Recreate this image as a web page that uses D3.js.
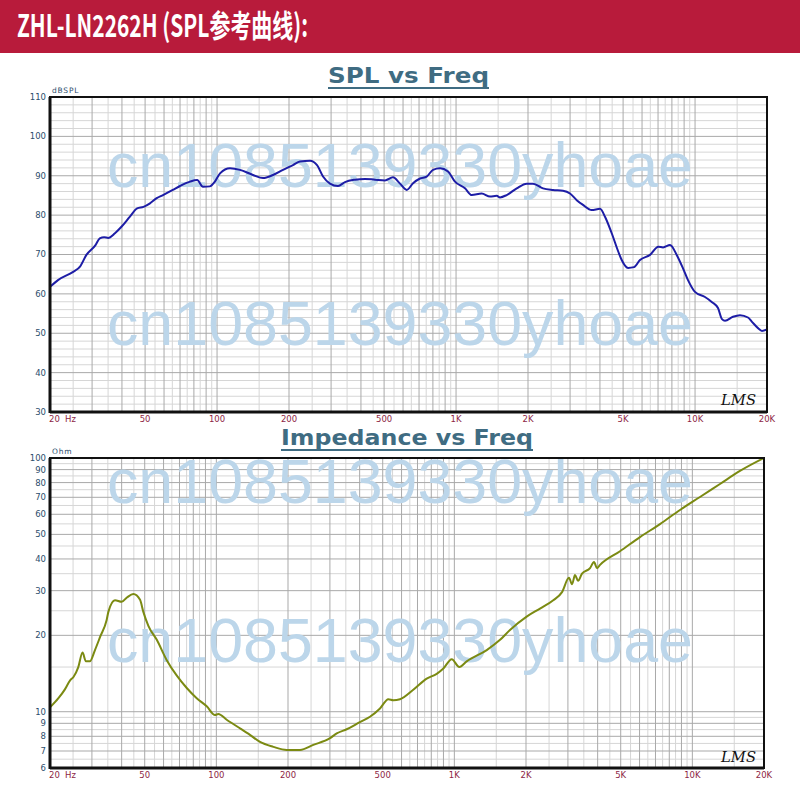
<!DOCTYPE html>
<html>
<head>
<meta charset="utf-8">
<script src="https://cdn.jsdelivr.net/npm/d3@7"></script>
<style>
  html, body { margin: 0; padding: 0; background: #fff; }
  svg { display: block; }
</style>
</head>
<body>
<svg id="chart" width="800" height="800"></svg>
<script>
// ---------- DATA ----------
const headerTitle = "ZHL-LN2262H (SPL参考曲线):";
const splTitle = "SPL vs Freq";
const impTitle = "Impedance vs Freq";
const watermarkText = "cn1085139330yhoae";

const splFreq = [20, 21.6, 25, 26.7, 28.4, 31, 32.3, 33.7, 35, 37.4, 39.9, 43.2, 46.3, 49.2, 52.4, 55.9, 59.4, 65.3, 70, 77, 82.6,
  87.3, 93.3, 97.9, 102.9, 113.3, 124.7, 141.4, 155.7, 171.5, 188.8, 207.8, 222.4, 244.9, 262, 277.6, 296.8, 320.6, 343, 377.8,
  416, 457.9, 504, 544.6, 582.8, 621.7, 660.6, 706.7, 753.8, 801, 856.9, 925.3, 990, 1090, 1163, 1280, 1387, 1479, 1527, 1629,
  1794, 1975, 2098, 2311, 2545, 2802, 2998, 3198, 3398, 3694, 4004, 4200, 4480, 4775, 4933, 5243, 5552, 5883, 6478, 7021, 7346,
  7856, 8380, 8904, 9344, 9992, 11004, 11776, 12474, 12964, 13346, 14412, 15418, 16652, 17306, 18340, 19060, 20000];
const splDb = [61.8, 63.5, 65.6, 66.9, 69.9, 72.4, 74.1, 74.4, 74.2, 75.4, 77.1, 79.6, 81.7, 82.1, 83.0, 84.3, 85.1, 86.4, 87.4, 88.5, 88.9,
  87.2, 87.3, 88.5, 90.6, 91.9, 91.5, 90.2, 89.4, 90.2, 91.5, 92.7, 93.6, 93.8, 92.7, 89.8, 88.0, 87.4, 88.4, 89.0,
  89.2, 89.0, 88.8, 89.6, 88.0, 86.4, 88.1, 89.3, 89.8, 91.5, 91.9, 91.1, 88.5, 86.8, 85.1, 85.5, 84.7, 84.9, 84.5, 85.1,
  86.8, 88.0, 88.0, 86.8, 86.4, 86.2, 85.5, 83.8, 82.6, 81.3, 81.6, 79.6, 75.4, 70.7, 68.6, 66.6, 66.8, 68.6, 69.9, 72.0, 71.8,
  72.4, 69.9, 66.5, 63.5, 60.5, 59.2, 57.9, 56.4, 53.6, 53.2, 54.2, 54.6, 54.0, 52.9, 51.3, 50.6, 51.0];

const impFreq = [20, 21.7, 23.1, 24.3, 25.1, 26.3, 27.4, 28.3, 29.4, 30.9, 32.5, 34.6, 35.2, 37.5, 40, 42.1, 44.8, 47.8, 49.3, 51.8,
  56.2, 61.8, 68.1, 75.1, 82.7, 91.1, 98.7, 101.9, 110.5, 125.7, 136.2, 152.5, 173.5, 197.5, 224.6, 255.5, 300.4, 320.4, 353, 401,
  442, 487, 528, 554, 591, 672, 765, 843, 899, 975, 1049, 1127, 1368, 1556, 1713, 2013, 2290, 2604, 2834, 3031, 3122, 3214, 3309,
  3439, 3716, 3862, 3976, 4093, 4966, 6026, 7311, 8872, 10766, 13062, 15850, 20000];
const impOhm = [10.4, 11.3, 12.25, 13.3, 13.7, 15.0, 17.1, 15.8, 15.8, 17.5, 19.75, 23.0, 24.8, 27.5, 27.1, 28.2, 29.1, 27.6, 24.8, 21.8,
  19.2, 16.0, 13.9, 12.4, 11.3, 10.5, 9.7, 9.8, 9.3, 8.6, 8.2, 7.6, 7.27, 7.07, 7.07, 7.4, 7.87, 8.21, 8.53, 9.1,
  9.55, 10.3, 11.2, 11.1, 11.2, 12.2, 13.5, 14.1, 14.8, 16.1, 15.0, 15.8, 17.5, 19.2, 21.0, 23.7, 25.5, 27.5, 29.6, 33.7, 31.8, 34.6, 32.8,
  35.0, 36.8, 38.9, 36.8, 37.9, 42.9, 48.8, 54.9, 62.4, 70.2, 79.0, 88.9, 100];

const xTickValues = [50, 100, 200, 500, 1000, 2000, 5000, 10000, 20000];
const xTickLabels = ["50", "100", "200", "500", "1K", "2K", "5K", "10K", "20K"];
const splTickValues = [110, 100, 90, 80, 70, 60, 50, 40, 30];
const impTickValues = [100, 90, 80, 70, 60, 50, 40, 30, 20, 10, 9, 8, 7, 6];

// ---------- LAYOUT ----------
const svg = d3.select("#chart");
const C = {
  header: "#b81b3b", title: "#3f6c82", ytick: "#2c4d6c", xtick: "#8e1f45",
  major: "#a9a9a9", minor: "#d6d6d6", spl: "#1d1da6", imp: "#7b8a12", wm: "#bcd6ea"
};

// header band
svg.append("rect").attr("x", 0).attr("y", 0).attr("width", 800).attr("height", 53).attr("fill", C.header);
svg.append("text").attr("x", 17).attr("y", 37)
  .attr("font-family", "'Noto Sans CJK SC', 'DejaVu Sans', sans-serif")
  .attr("font-weight", "bold").attr("font-size", 31).attr("fill", "#fff")
  .attr("textLength", 291).attr("lengthAdjust", "spacingAndGlyphs")
  .text(headerTitle);

// frequency grid values
function freqGrid() {
  const major = [], minor = [];
  [10, 100, 1000, 10000].forEach(d => {
    for (let m = 1; m <= 9; m++) {
      const f = m * d, h = (m + 0.5) * d;
      if (f >= 20 && f <= 20000) major.push(f);
      if (h > 20 && h < 20000) minor.push(h);
    }
  });
  return { major, minor };
}
const fg = freqGrid();

function drawPanel(opts) {
  const { x, y, left, right, top, bottom, yMajor, yMinor, yTicks, unit, title, titleX, titleBase, titleLen,
          data, color, wmBases, lmsY, xLabelY } = opts;
  const g = svg.append("g");
  const clipId = "clip" + Math.round(top);
  svg.append("clipPath").attr("id", clipId).append("rect")
    .attr("x", left).attr("y", top).attr("width", right - left).attr("height", bottom - top);

  // minor grid
  g.selectAll(".vmin").data(fg.minor).enter().append("line")
    .attr("x1", d => x(d)).attr("x2", d => x(d)).attr("y1", top).attr("y2", bottom)
    .attr("stroke", C.minor).attr("stroke-width", 1);
  g.selectAll(".hmin").data(yMinor).enter().append("line")
    .attr("x1", left).attr("x2", right).attr("y1", d => y(d)).attr("y2", d => y(d))
    .attr("stroke", C.minor).attr("stroke-width", 1);
  // major grid
  g.selectAll(".vmaj").data(fg.major).enter().append("line")
    .attr("x1", d => x(d)).attr("x2", d => x(d)).attr("y1", top).attr("y2", bottom)
    .attr("stroke", C.major).attr("stroke-width", 1);
  g.selectAll(".hmaj").data(yMajor).enter().append("line")
    .attr("x1", left).attr("x2", right).attr("y1", d => y(d)).attr("y2", d => y(d))
    .attr("stroke", C.major).attr("stroke-width", 1);

  // watermark
  wmBases.forEach(b => {
    g.append("text").attr("x", 107).attr("y", b)
      .attr("font-family", "'Liberation Sans', Arial, sans-serif").attr("font-size", 63)
      .attr("fill", C.wm).attr("textLength", 586).attr("lengthAdjust", "spacingAndGlyphs")
      .text(watermarkText);
  });

  // curve
  const line = d3.line().x(d => x(d[0])).y(d => y(d[1])).curve(d3.curveMonotoneX);
  g.append("path").datum(data).attr("d", line).attr("fill", "none")
    .attr("stroke", color).attr("stroke-width", 2).attr("stroke-linejoin", "round")
    .attr("clip-path", `url(#${clipId})`);

  // LMS logo
  g.append("text").attr("x", 721).attr("y", lmsY)
    .attr("font-family", "'DejaVu Serif', serif").attr("font-style", "italic").attr("font-size", 15)
    .attr("fill", "#111").attr("textLength", 35).attr("lengthAdjust", "spacingAndGlyphs").text("LMS");

  // frame
  g.append("rect").attr("x", left).attr("y", top).attr("width", right - left).attr("height", bottom - top)
    .attr("fill", "none").attr("stroke", "#111").attr("stroke-width", 2);
  g.append("line").attr("x1", left).attr("x2", left).attr("y1", top).attr("y2", bottom + 1)
    .attr("stroke", "#111").attr("stroke-width", 3);
  g.append("line").attr("x1", left).attr("x2", right).attr("y1", bottom).attr("y2", bottom)
    .attr("stroke", "#111").attr("stroke-width", 3);

  // y ticks
  g.selectAll(".yt").data(yTicks).enter().append("text")
    .attr("x", 46).attr("y", d => y(d)).attr("dy", "0.35em").attr("text-anchor", "end")
    .attr("font-family", "'DejaVu Sans', sans-serif").attr("font-size", 8.5)
    .attr("fill", C.ytick).text(d => d);
  g.append("text").attr("x", left + 2).attr("y", top - 4)
    .attr("font-family", "'DejaVu Sans', sans-serif").attr("font-size", 7.5).attr("letter-spacing", 0.8)
    .attr("fill", C.ytick).text(unit);

  // x ticks
  g.append("text").attr("x", 49).attr("y", xLabelY).attr("dy", "0.35em")
    .attr("font-family", "'DejaVu Sans', sans-serif").attr("font-size", 8.5).attr("fill", C.xtick).text("20");
  g.append("text").attr("x", 65).attr("y", xLabelY).attr("dy", "0.35em")
    .attr("font-family", "'DejaVu Sans', sans-serif").attr("font-size", 8.5).attr("fill", C.xtick).text("Hz");
  g.selectAll(".xt").data(xTickValues).enter().append("text")
    .attr("x", d => x(d)).attr("y", xLabelY).attr("dy", "0.35em").attr("text-anchor", "middle")
    .attr("font-family", "'DejaVu Sans', sans-serif").attr("font-size", 8.5)
    .attr("fill", C.xtick).text((d, i) => xTickLabels[i]);

  // title
  g.append("text").attr("x", titleX).attr("y", titleBase)
    .attr("font-family", "'DejaVu Sans', sans-serif").attr("font-weight", "bold").attr("font-size", 21)
    .attr("fill", C.title).attr("textLength", titleLen).attr("lengthAdjust", "spacingAndGlyphs").text(title);
  g.append("line").attr("x1", titleX).attr("x2", titleX + titleLen)
    .attr("y1", titleBase + 5).attr("y2", titleBase + 5).attr("stroke", C.title).attr("stroke-width", 2);
}

// SPL panel
const xSpl = d3.scaleLog().domain([20, 20000]).range([50, 767]);
const ySpl = d3.scaleLinear().domain([30, 110]).range([412, 97]);
const splMinor = d3.range(32, 110, 2).filter(v => v % 10 !== 0);
drawPanel({
  x: xSpl, y: ySpl, left: 50, right: 767, top: 97, bottom: 412,
  yMajor: splTickValues, yMinor: splMinor, yTicks: splTickValues, unit: "dBSPL",
  title: splTitle, titleX: 328, titleBase: 83, titleLen: 161,
  data: splFreq.map((f, i) => [f, splDb[i]]), color: C.spl,
  wmBases: [187, 345], lmsY: 405, xLabelY: 419
});

// Impedance panel
const xImp = d3.scaleLog().domain([20, 20000]).range([50, 764]);
const yImp = d3.scaleLog().domain([6, 100]).range([768, 458]);
const impMinor = [6.5, 7.5, 8.5, 9.5, 15, 25, 35, 45, 55, 65, 75, 85, 95];
drawPanel({
  x: xImp, y: yImp, left: 50, right: 764, top: 458, bottom: 768,
  yMajor: impTickValues, yMinor: impMinor, yTicks: impTickValues, unit: "Ohm",
  title: impTitle, titleX: 281, titleBase: 445, titleLen: 252,
  data: impFreq.map((f, i) => [f, impOhm[i]]), color: C.imp,
  wmBases: [503, 662], lmsY: 762, xLabelY: 775
});
</script>
</body>
</html>
